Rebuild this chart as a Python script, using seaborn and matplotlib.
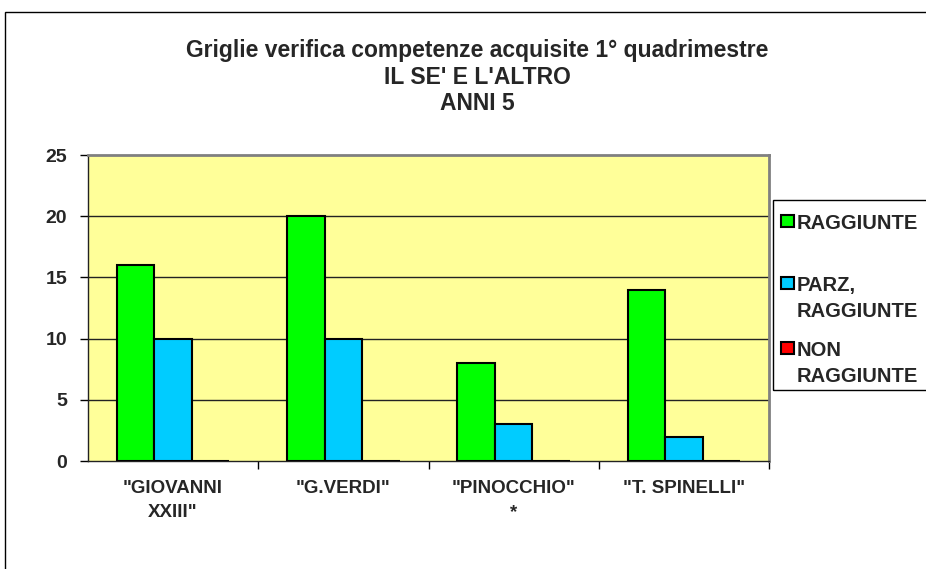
import matplotlib
matplotlib.use("Agg")
import matplotlib.pyplot as plt
import seaborn as sns
import pandas as pd
from matplotlib.patches import Rectangle

# data
schools = ['"GIOVANNI\nXXIII"', '"G.VERDI"', '"PINOCCHIO"\n*', '"T. SPINELLI"']
raggiunte = [16, 20, 8, 14]
parz_raggiunte = [10, 10, 3, 2]
non_raggiunte = [0, 0, 0, 0]
levels = ["RAGGIUNTE", "PARZ,\nRAGGIUNTE", "NON\nRAGGIUNTE"]
colors = ["#00FF00", "#00CCFF", "#FF0000"]

df = pd.DataFrame({
    "scuola": schools * 3,
    "livello": [levels[0]] * 4 + [levels[1]] * 4 + [levels[2]] * 4,
    "n": raggiunte + parz_raggiunte + non_raggiunte,
})

sns.set_theme(style="white")
plt.rcParams["font.family"] = ["Liberation Sans", "DejaVu Sans"]
plt.rcParams["font.weight"] = "bold"

W, H = 926, 569
fig = plt.figure(figsize=(W / 100, H / 100), dpi=100)
ax = fig.add_axes([88 / W, 1 - 461 / H, (769 - 88) / W, (461 - 155) / H])
ax.set_facecolor("#FFFF99")

sns.barplot(data=df, x="scuola", y="n", hue="livello", hue_order=levels,
            palette=colors, width=0.66, edgecolor="black", linewidth=1.5,
            saturation=1, ax=ax, zorder=3, legend=False)

ax.set_ylim(0, 25)
ax.set_yticks([0, 5, 10, 15, 20, 25])
ax.set_xlim(-0.5, 3.5)
for y in [5, 10, 15, 20]:
    ax.axhline(y, color="#222222", lw=1.0, zorder=1)

ax.set_xlabel("")
ax.set_ylabel("")
ax.set_xticks([0.5, 1.5, 2.5, 3.5], minor=True)
ax.tick_params(axis="x", which="major", length=0, pad=14, labelsize=13.5)
ax.tick_params(axis="x", which="minor", length=6, width=1, color="black", direction="out")
ax.tick_params(axis="y", length=6, width=1, color="black", direction="out", pad=9, labelsize=14)
for lab in ax.get_xticklabels():
    lab.set_fontweight("bold")
    lab.set_linespacing(1.5)
for lab in ax.get_yticklabels():
    lab.set_fontweight("bold")
ax.tick_params(bottom=True, left=True, which="both")

for side in ["top", "right"]:
    ax.spines[side].set_color("#808080")
    ax.spines[side].set_linewidth(2)
for side in ["left", "bottom"]:
    ax.spines[side].set_color("#222222")
    ax.spines[side].set_linewidth(1)

# legend box, entries aligned on first text line like the original
fig.add_artist(Rectangle((773 / W, 1 - 390 / H), 0.3, (390 - 200) / H,
                         transform=fig.transFigure, fill=False,
                         edgecolor="black", lw=1))
for lab, col, yc in zip(levels, colors, [221, 283, 348]):
    fig.add_artist(Rectangle((781 / W, 1 - (yc + 6) / H), 13 / W, 12 / H,
                             transform=fig.transFigure, facecolor=col,
                             edgecolor="black", lw=1.5))
    fig.text(797 / W, 1 - (yc - 7) / H, lab, ha="left", va="top",
             fontsize=14.5, fontweight="bold", linespacing=1.45)

fig.text(477 / W, 1 - 39 / H,
         "Griglie verifica competenze acquisite 1° quadrimestre\nIL SE' E L'ALTRO\nANNI 5",
         ha="center", va="top", fontsize=16.5, fontweight="bold", linespacing=1.2)

# outer chart border
fig.add_artist(Rectangle((5 / W, -0.1), 2, 1 - 12 / H + 0.1,
                         transform=fig.transFigure, fill=False,
                         edgecolor="black", lw=1))

fig.savefig("out.png", dpi=100)
